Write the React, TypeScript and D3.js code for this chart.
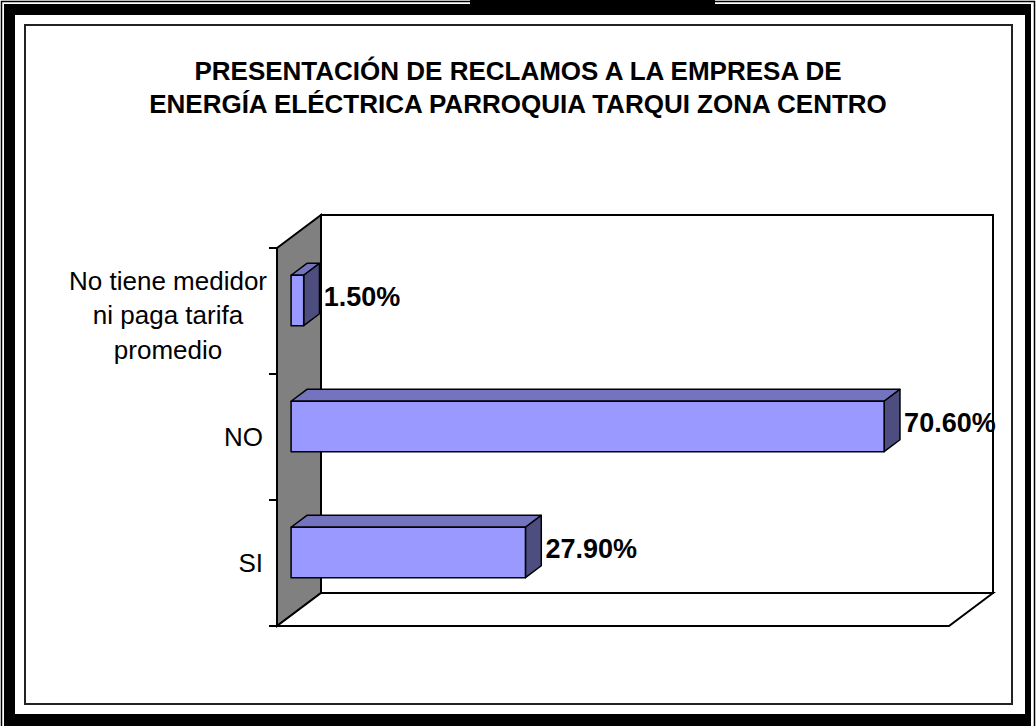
import React from 'react';
import * as d3 from 'd3';

const categories = ["SI", "NO", "No tiene medidor ni paga tarifa promedio"];
const values = [27.9, 70.6, 1.5];
const valueLabels = ["27.90%", "70.60%", "1.50%"];
const titleLines = [
  "PRESENTACIÓN DE RECLAMOS A LA EMPRESA DE",
  "ENERGÍA ELÉCTRICA PARROQUIA TARQUI ZONA CENTRO",
];
const axisDomain = [0, 80];

const W = 1036;
const H = 726;
const FONT = "'Liberation Sans', Arial, sans-serif";

// plot geometry (front plane + depth vector)
const PX0 = 277, PX1 = 949, PY0 = 248, PY1 = 626;
const DX = 44, DY = -33;
const F1 = 0.32, F2 = 0.68;

let _ctx: CanvasRenderingContext2D | null = null;
function measure(text: string, font: string) {
  if (!_ctx) _ctx = document.createElement('canvas').getContext('2d');
  if (!_ctx) return text.length * 12;
  _ctx.font = font;
  return _ctx.measureText(text).width;
}
function wrap(text: string, maxW: number, font: string) {
  const words = text.split(' ');
  const lines: string[] = [];
  let cur = '';
  for (const w of words) {
    const t = cur ? cur + ' ' + w : w;
    if (cur && measure(t, font) > maxW) { lines.push(cur); cur = w; } else cur = t;
  }
  if (cur) lines.push(cur);
  return lines;
}

export default function App() {
  const x = d3.scaleLinear().domain(axisDomain).range([PX0, PX1]);
  const y = d3.scaleBand<string>().domain(categories).range([PY1, PY0]).paddingInner(0.6).paddingOuter(0.3);
  const bw = y.bandwidth();
  const step = y.step();
  const ticks = d3.range(categories.length + 1).map(i => PY1 - i * step);

  const catFontSize = 26;
  const catFont = `${catFontSize}px Liberation Sans`;
  const pts = (a: number[][]) => a.map(p => p.join(',')).join(' ');

  const ox1 = DX * F1, oy1 = DY * F1;
  const ox2 = DX * F2, oy2 = DY * F2;

  return (
    <svg width={W} height={H} style={{ position: 'absolute', left: 0, top: 0, background: '#fff' }} fontFamily={FONT}>
      {/* outer frames */}
      <rect x={1.5} y={1.5} width={1033} height={800} fill="none" stroke="#000" strokeWidth={1.5} />
      <rect x={4} y={4} width={11} height={760} fill="#000" />
      <rect x={4} y={4} width={1027} height={11} fill="#000" />
      <rect x={1025} y={4} width={6} height={760} fill="#000" />
      <rect x={4} y={714} width={1027} height={40} fill="#000" />
      <rect x={470} y={0} width={245} height={5} fill="#000" />
      <rect x={25} y={25} width={987} height={679} fill="#fff" stroke="#222" strokeWidth={2} />

      {/* title */}
      <text x={518} fontSize={26} fontWeight="bold" textAnchor="middle" fill="#000">
        {titleLines.map((t, i) => (
          <tspan key={i} x={518} y={80 + i * 33}>{t}</tspan>
        ))}
      </text>

      {/* walls */}
      <rect x={PX0 + DX} y={PY0 + DY} width={PX1 - PX0} height={PY1 - PY0} fill="#fff" stroke="#000" strokeWidth={2} />
      <polygon points={pts([[PX0, PY0], [PX0 + DX, PY0 + DY], [PX0 + DX, PY1 + DY], [PX0, PY1]])} fill="#808080" stroke="#000" strokeWidth={2} />
      <polygon points={pts([[PX0, PY1], [PX0 + DX, PY1 + DY], [PX1 + DX, PY1 + DY], [PX1, PY1]])} fill="#fff" stroke="#000" strokeWidth={2} strokeLinejoin="miter" />

      {/* ticks */}
      {ticks.map((t, i) => (
        <line key={i} x1={PX0 - 8} x2={PX0} y1={t} y2={t} stroke="#000" strokeWidth={2} />
      ))}

      {/* bars */}
      {categories.map((c, i) => {
        const yt = (y(c) as number);
        const xa = x(0), xb = x(values[i]);
        const front = [[xa + ox1, yt + oy1], [xb + ox1, yt + oy1], [xb + ox1, yt + bw + oy1], [xa + ox1, yt + bw + oy1]];
        const top = [[xa + ox1, yt + oy1], [xb + ox1, yt + oy1], [xb + ox2, yt + oy2], [xa + ox2, yt + oy2]];
        const side = [[xb + ox1, yt + oy1], [xb + ox2, yt + oy2], [xb + ox2, yt + bw + oy2], [xb + ox1, yt + bw + oy1]];
        return (
          <g key={c} stroke="#000" strokeWidth={1.5} strokeLinejoin="round">
            <polygon points={pts(top)} fill="#7373BF" />
            <polygon points={pts(side)} fill="#4D4D80" />
            <polygon points={pts(front)} fill="#9999FF" />
          </g>
        );
      })}

      {/* value labels */}
      {categories.map((c, i) => {
        const yc = (y(c) as number) + bw / 2 + oy1 - 4;
        return (
          <text key={c} x={x(values[i]) + ox1 + 20} y={yc} dy="0.35em" fontSize={27} fontWeight="bold" fill="#000">
            {valueLabels[i]}
          </text>
        );
      })}

      {/* category labels */}
      {categories.map((c) => {
        const yc = (y(c) as number) + bw / 2;
        const lines = wrap(c, 225, catFont);
        const lh = 34.5;
        if (lines.length === 1) {
          return (
            <text key={c} x={PX0 - 14} y={yc} dy="0.35em" fontSize={catFontSize} textAnchor="end" fill="#000">{c}</text>
          );
        }
        const maxW = d3.max(lines, l => measure(l, catFont)) as number;
        const cx = PX0 - 10 - maxW / 2;
        const y0 = yc - ((lines.length - 1) * lh) / 2 + 4;
        return (
          <text key={c} fontSize={catFontSize} textAnchor="middle" fill="#000">
            {lines.map((l, j) => (
              <tspan key={j} x={cx} y={y0 + j * lh} dy="0.35em">{l}</tspan>
            ))}
          </text>
        );
      })}
    </svg>
  );
}
